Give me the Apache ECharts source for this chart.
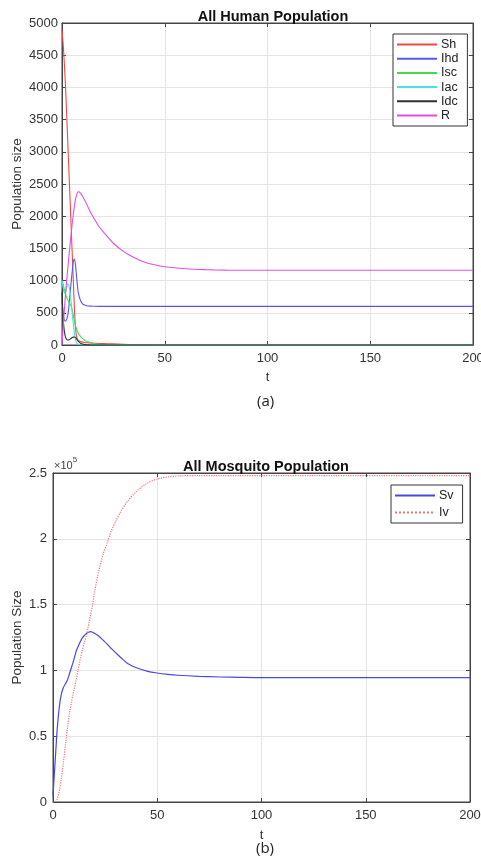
<!DOCTYPE html>
<html><head><meta charset="utf-8">
<script src="https://cdn.jsdelivr.net/npm/echarts@6/dist/echarts.min.js"></script>
<style>html,body{margin:0;padding:0;background:#fff}#c{width:481px;height:861px}</style>
</head><body><div id="c"></div>
<script>
// ---- Human population (a) ----
const tHuman = [0,0.5,1,1.5,2,2.5,3,3.5,4,4.5,5,5.5,6,6.5,7,7.5,8,9,10,11,12,13,14,16,18,20,25,30,35,40,45,50,60,70,80,90,100,125,150,175,200];
const Sh  = [4900,4700,4450,4150,3800,3400,3000,2600,2200,1800,1400,1000,600,300,150,90,70,55,45,40,36,33,30,27,24,22,18,12,5,2,1,0,0,0,0,0,0,0,0,0,0];
const Ihd = [700,500,400,370,380,420,500,650,820,990,1150,1290,1335,1260,1100,920,800,690,640,620,610,605,603,601,600,600,600,600,600,600,600,600,600,600,600,600,600,600,600,600,600];
const Isc = [1000,950,880,820,760,720,690,660,630,600,540,460,380,310,260,215,180,135,100,75,58,45,35,20,12,7,2,0,0,0,0,0,0,0,0,0,0,0,0,0,0];
const Iac = [1000,900,820,800,850,920,950,900,800,650,480,330,190,90,40,18,10,4,2,0,0,0,0,0,0,0,0,0,0,0,0,0,0,0,0,0,0,0,0,0,0];
const Idc = [820,450,250,150,100,80,78,82,92,105,115,122,124,118,100,78,55,28,14,7,4,2,1,0,0,0,0,0,0,0,0,0,0,0,0,0,0,0,0,0,0];
const R   = [0,250,480,700,900,1080,1250,1420,1580,1740,1890,2030,2150,2250,2320,2365,2380,2360,2310,2250,2185,2120,2055,1940,1840,1760,1580,1450,1360,1290,1245,1215,1185,1170,1162,1160,1160,1160,1160,1160,1160];
const humanNames = ['Sh','Ihd','Isc','Iac','Idc','R'];
const humanColors = ['#f04848','#5858f0','#48d848','#48e0e0','#303030','#e050e0'];

// ---- Mosquito population (b), values in units of 1e5 ----
const tMosq = [0,1,2,3,4,5,6,7,8,9,10,11,12,13,14,15,16,17,18,19,20,22,24,26,28,30,33,36,40,45,50,55,60,70,80,90,100,125,150,175,200];
const Sv = [0.05,0.3,0.55,0.72,0.82,0.87,0.9,0.93,0.98,1.03,1.08,1.14,1.18,1.215,1.245,1.265,1.28,1.29,1.294,1.29,1.28,1.26,1.23,1.2,1.165,1.135,1.09,1.05,1.02,0.995,0.98,0.97,0.963,0.955,0.95,0.947,0.945,0.945,0.945,0.945,0.945];
const Iv = [0,0,0.02,0.08,0.18,0.3,0.44,0.57,0.68,0.77,0.85,0.92,1.0,1.08,1.15,1.21,1.26,1.34,1.42,1.5,1.6,1.76,1.88,1.97,2.06,2.13,2.22,2.29,2.36,2.42,2.455,2.47,2.478,2.48,2.48,2.48,2.48,2.48,2.48,2.48,2.48];
const mosqScale = 1e5;

const xTicks = [0,50,100,150,200];
const yHumanTicks = [0,500,1000,1500,2000,2500,3000,3500,4000,4500,5000];
const yMosqTickLabels = ['0','0.5','1','1.5','2','2.5'];

const FONT = 'Liberation Sans, Arial, sans-serif';
const axisGrey = '#444';
const labelStyle = {color:'#333', fontSize:13, fontFamily:FONT};

function mainX(gi, nameGap){
  return {type:'value', gridIndex:gi, min:0, max:200, interval:50, name:'t', nameLocation:'middle', nameGap:nameGap, nameMoveOverlap:false,
    nameTextStyle:{color:'#333', fontSize:13, fontFamily:FONT},
    axisLine:{show:true, onZero:false, lineStyle:{color:axisGrey}}, axisTick:{inside:true, length:4, lineStyle:{color:axisGrey}},
    axisLabel:Object.assign({margin:7, formatter:(v)=>String(v)}, labelStyle), splitLine:{show:true, lineStyle:{color:'#e4e4e4'}}};
}
function topX(gi){
  return {type:'value', gridIndex:gi, position:'top', min:0, max:200, interval:50,
    axisLine:{show:true, onZero:false, lineStyle:{color:axisGrey}}, axisTick:{inside:true, length:4, lineStyle:{color:axisGrey}},
    axisLabel:{show:false}, splitLine:{show:false}};
}
function rightY(gi, max, interval){
  return {type:'value', gridIndex:gi, position:'right', min:0, max:max, interval:interval,
    axisLine:{show:true, onZero:false, lineStyle:{color:axisGrey}}, axisTick:{show:true, inside:true, length:4, lineStyle:{color:axisGrey}},
    axisLabel:{show:false}, splitLine:{show:false}};
}

const series = [];
humanNames.forEach((n,i)=>{
  const arr = [Sh,Ihd,Isc,Iac,Idc,R][i];
  series.push({name:n, type:'line', xAxisIndex:0, yAxisIndex:0, symbol:'none', smooth:0.25,
    lineStyle:{width:1.1, color:humanColors[i]}, itemStyle:{color:humanColors[i]},
    data: tHuman.map((t,k)=>[t, arr[k]])});
});
series.push({name:'Sv', type:'line', xAxisIndex:2, yAxisIndex:2, symbol:'none', smooth:0.3,
  lineStyle:{width:1.2, color:'#4848e8'}, itemStyle:{color:'#4848e8'},
  data: tMosq.map((t,k)=>[t, Sv[k]*mosqScale])});
series.push({name:'Iv', type:'line', xAxisIndex:2, yAxisIndex:2, symbol:'none', smooth:0.3,
  lineStyle:{width:1.2, color:'#e87878', type:'dotted'}, itemStyle:{color:'#e87878'},
  data: tMosq.map((t,k)=>[t, Iv[k]*mosqScale])});

const chart = echarts.init(document.getElementById('c'), null, {renderer:'canvas'});
chart.setOption({
  backgroundColor:'#fff',
  animation:false,
  title:[
    {text:'All Human Population', left:268, top:4, textAlign:'center', textStyle:{fontSize:14.5, fontWeight:'bold', color:'#111', fontFamily:FONT}},
    {text:'All Mosquito Population', left:261, top:454, textAlign:'center', textStyle:{fontSize:14.5, fontWeight:'bold', color:'#111', fontFamily:FONT}}
  ],
  legend:[
    {data:humanNames, orient:'vertical', left:393, top:34, itemWidth:40, itemHeight:10, itemGap:1.2,
     padding:[4,9,4,3], borderColor:'#333', borderWidth:1, backgroundColor:'#fff',
     itemStyle:{opacity:0},
     textStyle:{fontSize:12.5, lineHeight:12, color:'#222', fontFamily:FONT, padding:[0,0,0,-1]}},
    {data:['Sv','Iv'], orient:'vertical', left:391, top:485, itemWidth:40, itemHeight:10, itemGap:4,
     padding:[4,9,4,3], borderColor:'#333', borderWidth:1, backgroundColor:'#fff',
     itemStyle:{opacity:0},
     textStyle:{fontSize:12.5, lineHeight:12, color:'#222', fontFamily:FONT, padding:[0,0,0,-1]}}
  ],
  grid:[
    {left:62, top:23, width:411, height:322, show:true, borderColor:axisGrey, borderWidth:1, backgroundColor:'#fff', outerBoundsMode:'none', containLabel:false},
    {left:53, top:473, width:417, height:329, show:true, borderColor:axisGrey, borderWidth:1, backgroundColor:'#fff', outerBoundsMode:'none', containLabel:false}
  ],
  xAxis:[ mainX(0,26), topX(0), mainX(1,27), topX(1) ],
  yAxis:[
    {type:'value', gridIndex:0, min:0, max:5000, interval:500, name:'Population size', nameLocation:'middle', nameGap:38, nameMoveOverlap:false,
     nameTextStyle:{color:'#333', fontSize:13.5, fontFamily:FONT},
     axisLine:{show:true, onZero:false, lineStyle:{color:axisGrey}}, axisTick:{show:true, inside:true, length:4, lineStyle:{color:axisGrey}},
     axisLabel:Object.assign({margin:4, formatter:(v)=>String(v)}, labelStyle), splitLine:{show:true, lineStyle:{color:'#e4e4e4'}}},
    rightY(0, 5000, 500),
    {type:'value', gridIndex:1, min:0, max:2.5*mosqScale, interval:0.5*mosqScale, name:'Population Size', nameLocation:'middle', nameGap:29, nameMoveOverlap:false,
     nameTextStyle:{color:'#333', fontSize:13.5, fontFamily:FONT},
     axisLine:{show:true, onZero:false, lineStyle:{color:axisGrey}}, axisTick:{show:true, inside:true, length:4, lineStyle:{color:axisGrey}},
     axisLabel:Object.assign({margin:6, formatter:(v)=>yMosqTickLabels[Math.round(v/(0.5*mosqScale))]}, labelStyle),
     splitLine:{show:true, lineStyle:{color:'#e4e4e4'}}},
    rightY(1, 2.5*mosqScale, 0.5*mosqScale)
  ],
  graphic:[
    {type:'text', left:257, top:394, style:{text:'(a)', fontSize:15, fill:'#222', fontFamily:'Open Sans, sans-serif'}},
    {type:'text', left:256, top:841, style:{text:'(b)', fontSize:15, fill:'#222', fontFamily:'Open Sans, sans-serif'}},
    {type:'text', left:54, top:456, style:{text:'{a|×10}{b|5}', rich:{a:{fontSize:11, fill:'#444', fontFamily:FONT, padding:[4,0,0,0]}, b:{fontSize:8, fill:'#444', fontFamily:FONT, verticalAlign:'top'}}}}
  ],
  series:series
});
</script></body></html>
